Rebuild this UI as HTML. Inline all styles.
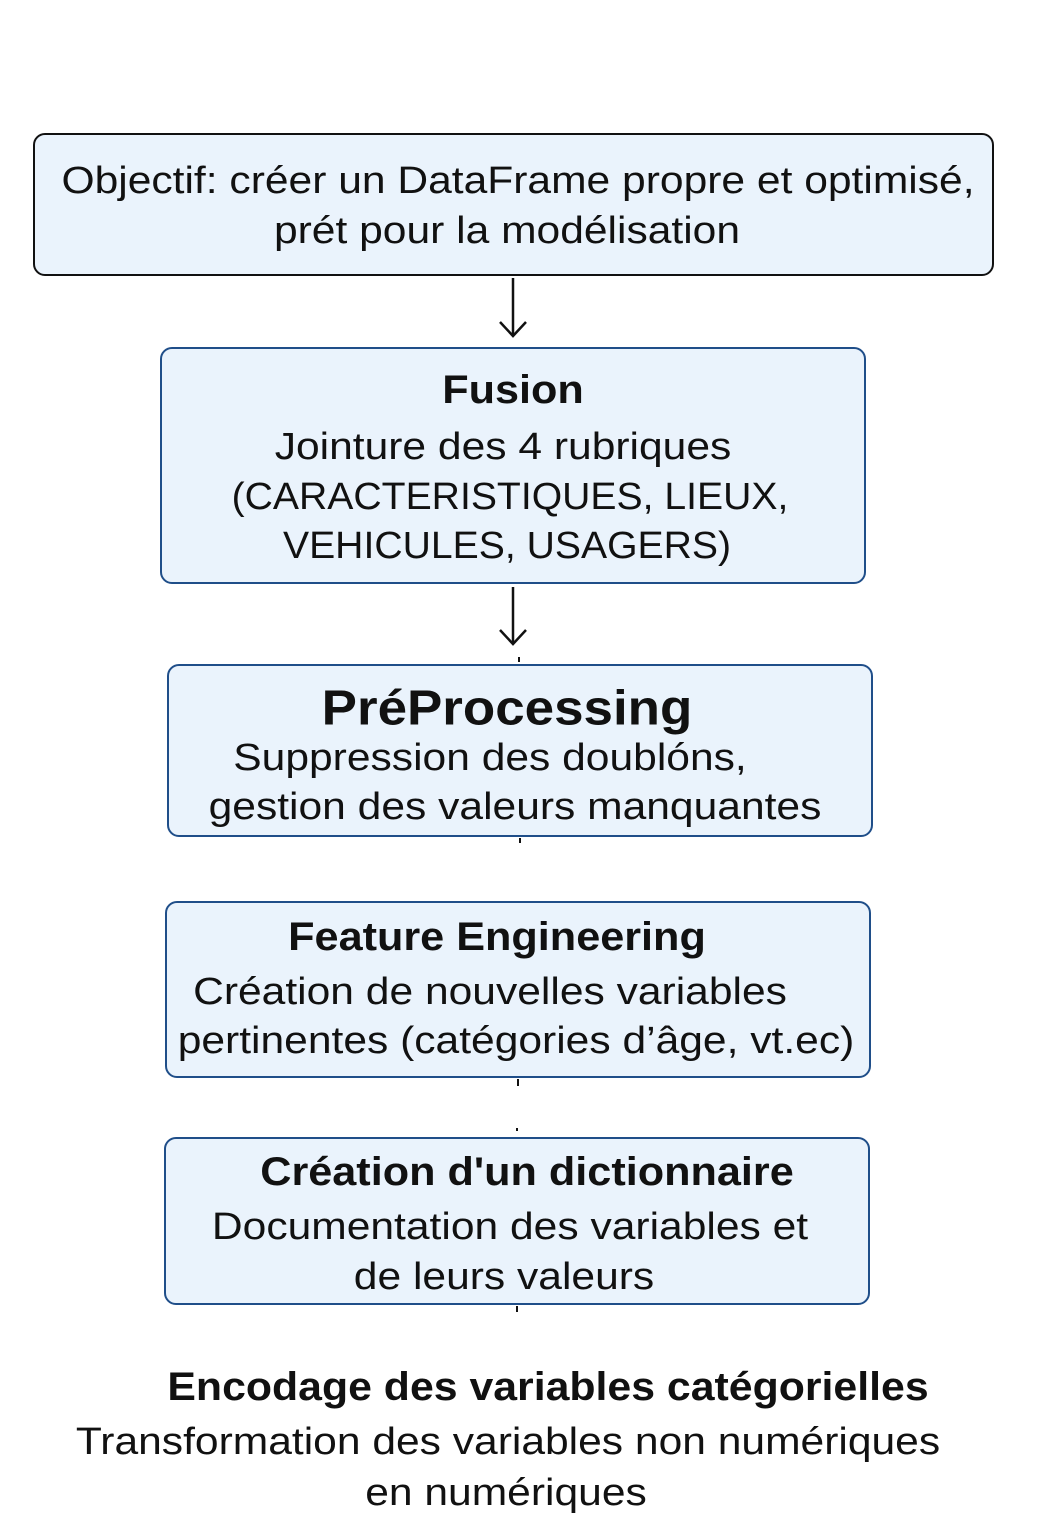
<!DOCTYPE html>
<html><head><meta charset="utf-8"><style>
body{margin:0;width:1044px;height:1536px;background:#fff;position:relative;font-family:"Liberation Sans",sans-serif;color:#111;overflow:hidden}
.b{position:absolute;background:#eaf3fc;border:2px solid #1f4e89;border-radius:12px;box-sizing:border-box}
.t{position:absolute;white-space:nowrap;font-size:38px;line-height:1;transform:translate(-50%,-50%) scaleX(1.12)}
.h{font-weight:bold;font-size:40px;transform:translate(-50%,-50%) scaleX(1.08)}
.u{transform:translate(-50%,-50%) scaleX(1.03)}
</style></head><body>
<div class="b" style="left:33px;top:133px;width:961px;height:143px;border-color:#111"></div>
<div class="b" style="left:160px;top:347px;width:706px;height:237px"></div>
<div class="b" style="left:167px;top:664px;width:706px;height:173px"></div>
<div class="b" style="left:165px;top:901px;width:706px;height:177px"></div>
<div class="b" style="left:164px;top:1137px;width:706px;height:168px"></div>
<svg style="position:absolute;left:0;top:0" width="1044" height="1536">
<g stroke="#111" stroke-width="2.5" fill="none">
<line x1="513" y1="278" x2="513" y2="336"/><polyline points="500,322 513,336 526,322"/>
<line x1="513" y1="587" x2="513" y2="644"/><polyline points="500,630 513,644 526,630"/>
</g>
<g stroke="#111" stroke-width="2">
<line x1="519" y1="657" x2="519" y2="662"/><line x1="520" y1="838" x2="520" y2="843"/>
<line x1="518" y1="1079" x2="518" y2="1086"/><line x1="517" y1="1128" x2="517" y2="1131"/>
<line x1="517" y1="1306" x2="517" y2="1312"/>
</g></svg>
<div class="t" style="left:518px;top:181px">Objectif: créer un DataFrame propre et optimisé,</div>
<div class="t" style="left:507px;top:231px">prét pour la modélisation</div>
<div class="t h" style="left:513px;top:390px">Fusion</div>
<div class="t" style="left:503px;top:447px">Jointure des 4 rubriques</div>
<div class="t u" style="left:510px;top:497px">(CARACTERISTIQUES, LIEUX,</div>
<div class="t u" style="left:507px;top:546px">VEHICULES, USAGERS)</div>
<div class="t h" style="left:507px;top:709px;font-size:49px">PréProcessing</div>
<div class="t" style="left:490px;top:758px">Suppression des doublóns,</div>
<div class="t" style="left:515px;top:807px">gestion des valeurs manquantes</div>
<div class="t h" style="left:497px;top:937px">Feature Engineering</div>
<div class="t" style="left:490px;top:992px">Création de nouvelles variables</div>
<div class="t" style="left:516px;top:1041px">pertinentes (catégories d’âge, vt.ec)</div>
<div class="t h" style="left:527px;top:1172px">Création d'un dictionnaire</div>
<div class="t" style="left:510px;top:1227px">Documentation des variables et</div>
<div class="t" style="left:504px;top:1277px">de leurs valeurs</div>
<div class="t h" style="left:548px;top:1387px;transform:translate(-50%,-50%) scaleX(1.07)">Encodage des variables catégorielles</div>
<div class="t" style="left:508px;top:1442px">Transformation des variables non numériques</div>
<div class="t" style="left:506px;top:1493px">en numériques</div>
</body></html>
